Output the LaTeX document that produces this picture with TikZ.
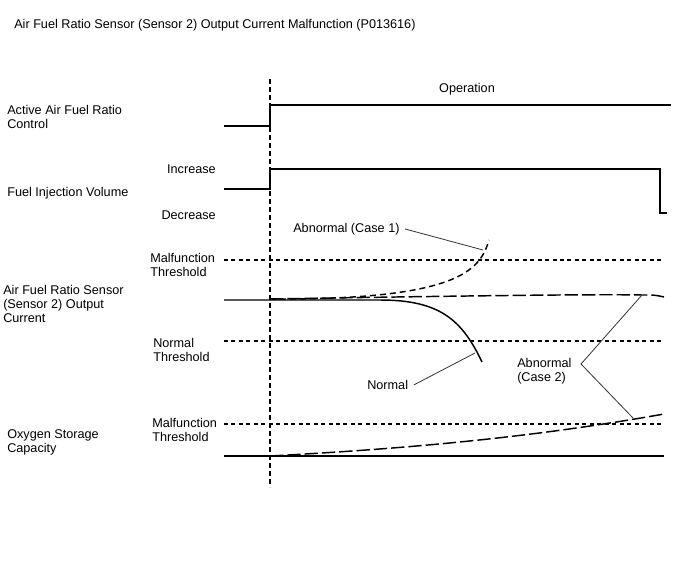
\documentclass[tikz,border=0pt]{standalone}
\usepackage{fontspec}
\setmainfont{Liberation Sans}
\begin{document}
\begin{tikzpicture}[x=0.75pt,y=-0.75pt,
  lbl/.style={font=\fontsize{9.5}{10.5}\selectfont, inner sep=0pt, align=left, anchor=west},
  lblr/.style={lbl, align=right, anchor=east},
  sig/.style={line width=1.1pt, black},
  thr/.style={line width=0.9pt, dash pattern=on 3pt off 2.6pt},
  guide/.style={line width=0.9pt, dash pattern=on 3.5pt off 2.5pt},
  longdash/.style={line width=1.1pt, dash pattern=on 10pt off 3pt},
  shortdash/.style={line width=1.1pt, dash pattern=on 4.5pt off 3pt},
  leader/.style={line width=0.6pt, black!80}]
\useasboundingbox (0,0) rectangle (688,560);
% texts
\node[lbl] (title) at (14,25) {Air Fuel Ratio Sensor (Sensor 2) Output Current Malfunction (P013616)};
\node[lbl] (aafr) at (7,117) {Active Air Fuel Ratio\\Control};
\node[lbl, anchor=center] (op) at (467,89) {Operation};
\node[lblr] (inc) at (216,169) {Increase};
\node[lbl] (fiv) at (7,193) {Fuel Injection Volume};
\node[lblr] (dec) at (216,215) {Decrease};
\node[lbl] (mt1) at (150,264.5) {Malfunction\\Threshold};
\node[lbl] (afs) at (3,303.5) {Air Fuel Ratio Sensor\\(Sensor 2) Output\\Current};
\node[lbl] (nt) at (153,349.5) {Normal\\Threshold};
\node[lbl] (mt2) at (152,430) {Malfunction\\Threshold};
\node[lbl] (osc) at (7,442.5) {Oxygen Storage\\Capacity};
\node[lbl] (c1lab) at (293,229) {Abnormal (Case 1)};
\node[lbl] (nlab) at (367,385) {Normal};
\node[lbl] (c2lab) at (517,371.5) {Abnormal\\(Case 2)};
% time guide
\coordinate (vtop) at (270,79);
\coordinate (vbot) at (270,487);
\draw[guide] (vtop) -- (vbot);
% active A/F control
\draw[sig] (224,126) -- (270,126) -- (270,105) -- (671,105);
% fuel injection volume
\draw[sig] (224,189) -- (270,189) -- (270,169) -- (660,169) -- (660,213) -- (667,213);
% thresholds
\draw[thr] (224,260) -- (664,260);
\draw[thr] (224,341) -- (664,341);
\draw[thr] (224,424) -- (664,424);
% sensor output current
\draw[longdash] (270,299) .. controls (450,296) and (600,294) .. (642,295) .. controls (655,295) .. (664,297);
\draw[shortdash] (270,299) .. controls (460,300) and (480,270) .. (489,240);
\draw[sig] (224,300) -- (380,300) .. controls (440,300) and (462,320) .. (482,362);
% oxygen storage capacity
\draw[sig] (224,456) -- (664,456);
\draw[longdash] (270,456) .. controls (420,448) and (540,436) .. (664,414);
% leaders
\coordinate (p1) at (483,250);
\coordinate (p2) at (475,353);
\coordinate (v2) at (581,364);
\coordinate (p3) at (642,295);
\coordinate (p4) at (633,418);
\draw[leader] ([xshift=4pt]c1lab.east) -- (p1);
\draw[leader] ([xshift=4pt]nlab.east) -- (p2);
\draw[leader] (p3) -- (v2) -- (p4);
\end{tikzpicture}
\end{document}
